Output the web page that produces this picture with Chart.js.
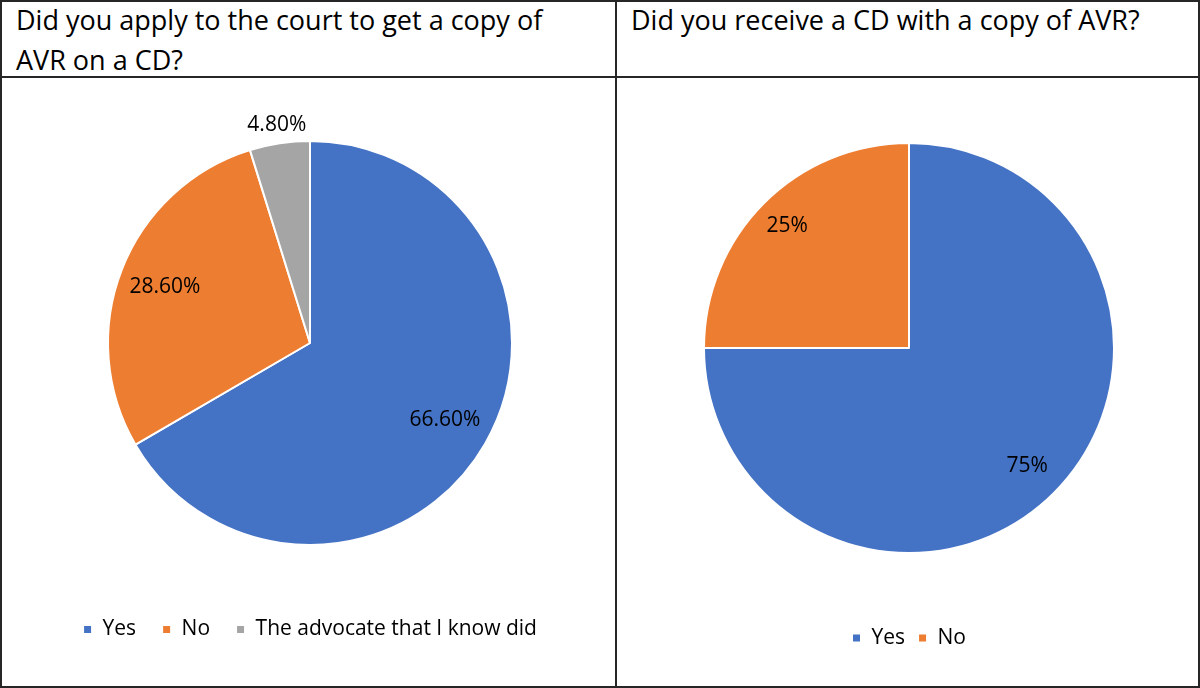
<!DOCTYPE html>
<html>
<head>
<meta charset="utf-8">
<script src="https://cdn.jsdelivr.net/npm/chart.js@4.4.1/dist/chart.umd.min.js"></script>
<style>
  html, body { margin: 0; padding: 0; background: #fff; }
  #frame { position: relative; width: 1200px; height: 688px; font-family: "Open Sans", sans-serif; color: #000; overflow: hidden; }
  .line { position: absolute; background: #262626; }
  .head { position: absolute; top: 0; font-size: 27px; line-height: 40px; white-space: nowrap; }
  canvas { position: absolute; }
</style>
</head>
<body>
<div id="frame">
  <div class="head" style="left:16px">Did you apply to the court to get a copy of<br>AVR on a CD?</div>
  <div class="head" style="left:631px">Did you receive a CD with a copy of AVR?</div>

  <canvas id="chart1" width="613" height="608" style="left:2px;top:78px"></canvas>
  <canvas id="chart2" width="581" height="608" style="left:617px;top:78px"></canvas>

  <!-- table borders -->
  <div class="line" style="left:0;top:0;width:1200px;height:2px"></div>
  <div class="line" style="left:0;top:686px;width:1200px;height:2px"></div>
  <div class="line" style="left:0;top:0;width:2px;height:688px"></div>
  <div class="line" style="left:1198px;top:0;width:2px;height:688px"></div>
  <div class="line" style="left:615px;top:0;width:2px;height:688px"></div>
  <div class="line" style="left:0;top:76px;width:1200px;height:2px"></div>
</div>

<script>
// left chart: applied to the court
var applyLabels = ['Yes', 'No', 'The advocate that I know did'];
var applyValues = [66.6, 28.6, 4.8];

// right chart: received a CD
var receiveLabels = ['Yes', 'No'];
var receiveValues = [75, 25];

var sliceColors = ['#4472C4', '#ED7D31', '#A5A5A5'];

Chart.defaults.font.family = '"Open Sans", sans-serif';
Chart.defaults.color = '#000';

// percentage labels placed along each slice's mid angle
const sliceLabels = {
  id: 'sliceLabels',
  afterDatasetsDraw(chart, args, opts) {
    const ctx = chart.ctx;
    const ds = chart.data.datasets[0];
    const meta = chart.getDatasetMeta(0);
    ctx.save();
    ctx.font = '21px "Open Sans"';
    ctx.fillStyle = '#000';
    ctx.textAlign = 'center';
    ctx.textBaseline = 'middle';
    meta.data.forEach((arc, i) => {
      const p = arc.getProps(['x', 'y', 'startAngle', 'endAngle', 'outerRadius'], true);
      const mid = (p.startAngle + p.endAngle) / 2;
      const r = p.outerRadius * opts.dist[i];
      ctx.fillText(ds.data[i].toFixed(opts.decimals) + '%', p.x + Math.cos(mid) * r, p.y + Math.sin(mid) * r);
    });
    ctx.restore();
  }
};

function pieConfig(labels, values, padding, legendGap, legendSpacing, dist, decimals) {
  return {
    type: 'pie',
    data: {
      labels: labels,
      datasets: [{
        data: values,
        backgroundColor: sliceColors.slice(0, values.length),
        borderColor: '#fff',
        borderWidth: 2,
      }],
    },
    options: {
      responsive: false,
      animation: false,
      events: [],
      layout: { padding: padding },
      plugins: {
        tooltip: { enabled: false },
        legend: {
          position: 'bottom',
          // invisible legend title only used as a gap between pie and legend
          title: {
            display: true,
            text: ' ',
            color: 'rgba(0,0,0,0)',
            font: { size: 10 },
            padding: { top: legendGap, bottom: 0 },
          },
          labels: {
            boxWidth: 9,
            boxHeight: 9,
            padding: legendSpacing,
            font: { size: 21 },
            color: '#000',
          },
        },
        sliceLabels: { dist: dist, decimals: decimals },
      },
    },
    plugins: [sliceLabels],
  };
}

new Chart(document.getElementById('chart1'),
  pieConfig(applyLabels, applyValues, { top: 62, left: 3, right: 0, bottom: 36 }, 35, 26, [0.77, 0.77, 1.094], 2));

new Chart(document.getElementById('chart2'),
  pieConfig(receiveLabels, receiveValues, { top: 64, left: 3, right: 0, bottom: 27.5 }, 48.5, 13, [0.815, 0.84], 0));
</script>
</body>
</html>
